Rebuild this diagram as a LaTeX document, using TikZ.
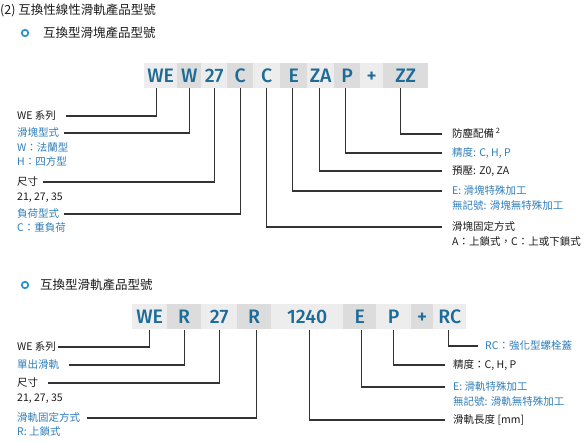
\documentclass[tikz,border=0pt]{standalone}
\usepackage{fontspec}
\setmainfont{Noto Sans CJK TC}
\newfontfamily\codefont{Fira Sans}[UprightFont=* Medium]
\definecolor{codeblue}{HTML}{1D6B97}
\definecolor{lblue}{HTML}{2F7DB8}
\definecolor{bulletc}{HTML}{2E93C8}
\definecolor{boxL}{HTML}{EDEDED}
\definecolor{boxD}{HTML}{DCDCDC}
\definecolor{linec}{HTML}{333333}
\definecolor{txt}{HTML}{1A1A1A}
\tikzset{
  codebox/.style={anchor=west, inner sep=0pt, minimum height=25pt, text height=13.5pt, text depth=0pt,
    font=\codefont\fontsize{19.5}{19.5}\selectfont, text=codeblue},
  cL/.style={codebox, fill=boxL},
  cD/.style={codebox, fill=boxD},
  lbl/.style={anchor=west, inner sep=0pt, text height=9.2pt, text depth=1.3pt,
    font=\fontsize{10.5}{12}\selectfont, text=txt},
  blbl/.style={lbl, text=lblue},
  head/.style={anchor=west, inner sep=0pt, font=\fontsize{12.5}{14}\selectfont, text=txt},
  bullet/.style={circle, draw=bulletc, line width=1.7pt, minimum size=6.5pt, inner sep=0pt},
  conn/.style={draw=linec, line width=1.2pt},
}
\begin{document}
\begin{tikzpicture}[x=1pt,y=-1pt]
\useasboundingbox (0,0) rectangle (584,443);

% headings
\node[head] (h0) at (0,10) {(2) 互換性線性滑軌產品型號};
\node[bullet] (b1) at (25,33) {};
\node[head] (h1) at (43,33) {互換型滑塊產品型號};
\node[bullet] (b2) at (25,285) {};
\node[head] (h2) at (40,285) {互換型滑軌產品型號};

% ---------- top code row ----------
\node[cL, minimum width=33pt] (tWE) at (144,75.5) {WE};
\node[cD, minimum width=24pt] (tW)  at (177,75.5) {W};
\node[cL, minimum width=26pt] (t27) at (201,75.5) {27};
\node[cD, minimum width=26pt] (tC1) at (227,75.5) {C};
\node[cL, minimum width=27pt] (tC2) at (253,75.5) {C};
\node[cD, minimum width=27pt] (tE)  at (280,75.5) {E};
\node[cL, minimum width=27pt] (tZA) at (307,75.5) {ZA};
\node[cD, minimum width=26pt] (tP)  at (334,75.5) {P};
\node[cL, minimum width=23pt] (tPl) at (360,75.5) {+};
\node[cD, minimum width=45pt] (tZZ) at (383,75.5) {ZZ};

% top left labels
\node[lbl]  (lWE)  at (17,116) {WE 系列};
\node[blbl] (lBT)  at (17,133) {滑塊型式};
\node[blbl] (lBT1) at (17,148) {W：法蘭型};
\node[blbl] (lBT2) at (17,162) {H：四方型};
\node[lbl]  (lSZ)  at (17,182) {尺寸};
\node[lbl]  (lSZ1) at (17,197) {21, 27, 35};
\node[blbl] (lLD)  at (17,214) {負荷型式};
\node[blbl] (lLD1) at (17,228) {C：重負荷};

% top right labels
\node[lbl]  (rZZ)  at (452,134) {防塵配備\,\textsuperscript{2}};
\node[blbl] (rP)   at (452,153) {精度: C, H, P};
\node[lbl]  (rZA)  at (452,171) {預壓: Z0, ZA};
\node[blbl] (rE)   at (452,191) {E: 滑塊特殊加工};
\node[blbl] (rE1)  at (452,206) {無記號: 滑塊無特殊加工};
\node[lbl]  (rC)   at (452,227) {滑塊固定方式};
\node[lbl]  (rC1)  at (452,242) {A：上鎖式，C：上或下鎖式};

% top connectors
\draw[conn] ([xshift=-4.5pt]tWE.south) |- ([xshift=10pt]lWE.east);
\draw[conn] (tW.south)  |- ([xshift=5pt]lBT.east);
\draw[conn] (t27.south) |- ([xshift=5pt]lSZ.east);
\draw[conn] (tC1.south) |- ([xshift=5pt]lLD.east);
\draw[conn] (tC2.south) |- ([xshift=-10pt]rC.west);
\draw[conn] ([xshift=-1pt]tE.south)  |- ([xshift=-10pt]rE.west);
\draw[conn] ([xshift=-1.5pt]tZA.south) |- ([xshift=-10pt]rZA.west);
\draw[conn] ([xshift=-2pt]tP.south)  |- ([xshift=-10pt]rP.west);
\draw[conn] ([xshift=-5pt]tZZ.south) |- ([xshift=-10pt]rZZ.west);

% ---------- bottom code row ----------
\node[cL, minimum width=35pt] (bWE) at (132,317) {WE};
\node[cD, minimum width=34pt] (bR1) at (167,317) {R};
\node[cL, minimum width=36pt] (b27) at (201,317) {27};
\node[cD, minimum width=34pt] (bR2) at (237,317) {R};
\node[cL, minimum width=72pt] (bL)  at (271,317) {1240};
\node[cD, minimum width=33pt] (bE)  at (343,317) {E};
\node[cL, minimum width=35pt] (bP)  at (376,317) {P};
\node[cD, minimum width=22pt] (bPl) at (411,317) {+};
\node[cL, minimum width=33pt] (bRC) at (433,317) {RC};

% bottom left labels
\node[lbl]  (mWE)  at (17,347) {WE 系列};
\node[blbl] (mSR)  at (17,365) {單出滑軌};
\node[lbl]  (mSZ)  at (17,383) {尺寸};
\node[lbl]  (mSZ1) at (17,398) {21, 27, 35};
\node[blbl] (mRF)  at (17,418) {滑軌固定方式};
\node[blbl] (mRF1) at (17,432) {R: 上鎖式};

% bottom right labels
\node[blbl] (sRC)  at (485,346) {RC：強化型螺栓蓋};
\node[lbl]  (sP)   at (453,365) {精度：C, H, P};
\node[blbl] (sE)   at (453,387) {E: 滑軌特殊加工};
\node[blbl] (sE1)  at (453,402) {無記號: 滑軌無特殊加工};
\node[lbl]  (sL)   at (453,420) {滑軌長度 [mm]};

% bottom connectors
\draw[conn] (bWE.south) |- ([xshift=2pt]mWE.east);
\draw[conn] (bR1.south) |- ([xshift=10pt]mSR.east);
\draw[conn] (b27.south) |- ([xshift=10pt]mSZ.east);
\draw[conn] ([xshift=2pt]bR2.south) |- ([xshift=7pt]mRF.east);
\draw[conn] ([xshift=2pt]bL.south) |- ([xshift=-8pt]sL.west);
\draw[conn] ([xshift=1.5pt]bE.south) |- ([xshift=-8pt]sE.west);
\draw[conn] (bP.south) |- ([xshift=-8pt]sP.west);
\draw[conn] ([xshift=-1pt]bRC.south) |- ([xshift=-7pt]sRC.west);
\end{tikzpicture}
\end{document}
